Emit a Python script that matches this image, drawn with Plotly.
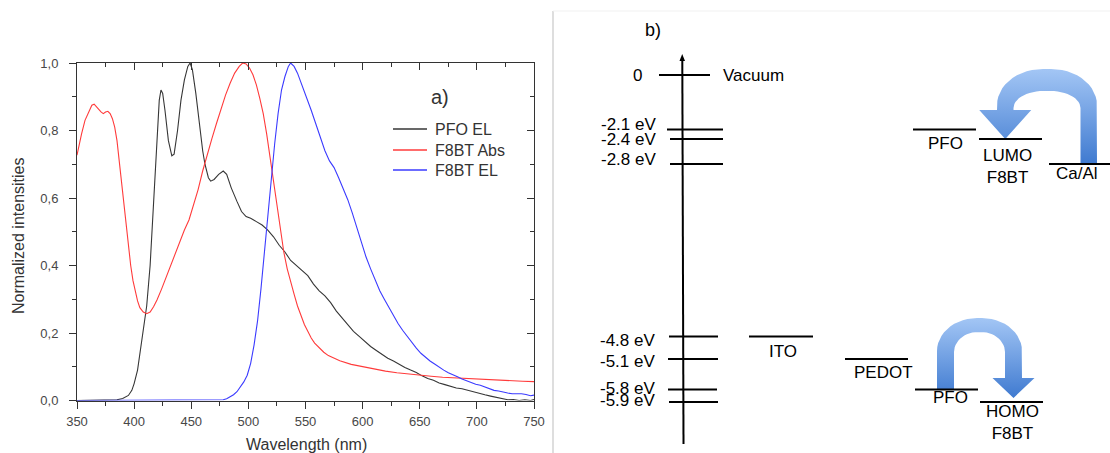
import numpy as np
import plotly.graph_objects as go

W, H = 1110, 453
FONT = "Liberation Sans"

# ---------------- data: spectra (panel a) ----------------
pfo_wl = [350, 360, 370, 380, 385, 390, 395, 398, 400, 403, 405, 408, 411, 414, 417, 420, 422, 423.5, 425,
          427, 430, 433, 435, 438, 441, 444, 447, 449, 451, 454, 457, 460, 462, 465, 467, 470, 474, 478, 481,
          485, 490, 494, 498, 502, 507, 512, 517, 522, 527, 532, 537, 542, 547, 552, 557, 562, 567, 572, 577,
          582, 587, 592, 597, 602, 607, 612, 617, 622, 627, 632, 637, 642, 647, 652, 657, 662, 667, 672, 677,
          682, 687, 692, 697, 702, 707, 712, 717, 722, 727, 732, 737, 742, 747, 750]
pfo_el = [0, 0, 0, 0, 0.002, 0.006, 0.015, 0.03, 0.05, 0.09, 0.14, 0.21, 0.28, 0.40, 0.58, 0.78, 0.89, 0.92, 0.91,
          0.86, 0.77, 0.725, 0.73, 0.80, 0.89, 0.95, 0.99, 1.0, 0.98, 0.91, 0.82, 0.74, 0.70, 0.66, 0.65, 0.655,
          0.67, 0.68, 0.67, 0.63, 0.59, 0.56, 0.545, 0.54, 0.53, 0.52, 0.505, 0.485, 0.46, 0.44, 0.415, 0.40,
          0.385, 0.37, 0.345, 0.325, 0.31, 0.29, 0.265, 0.245, 0.225, 0.205, 0.19, 0.175, 0.16, 0.148, 0.137,
          0.125, 0.117, 0.107, 0.098, 0.09, 0.083, 0.073, 0.065, 0.06, 0.052, 0.047, 0.042, 0.037, 0.035, 0.03,
          0.025, 0.022, 0.017, 0.013, 0.01, 0.005, 0.002, 0.003, 0.0, 0.002, 0.0, 0.003]

abs_wl = [350, 352, 354, 357, 360, 363, 365, 367, 369, 371, 373, 375, 377, 379, 381, 383, 385, 387, 389, 391,
          393, 395, 397, 399, 401, 403, 405, 408, 411, 414, 417, 420, 424, 428, 432, 436, 440, 444, 448, 452,
          456, 460, 464, 468, 472, 476, 480, 484, 488, 492, 495, 498, 501, 504, 507, 510, 513, 516, 519, 522,
          525, 528, 531, 534, 537, 540, 543, 546, 549, 552, 555, 558, 562, 566, 570, 575, 580, 590, 600, 610,
          620, 630, 640, 650, 660, 670, 680, 690, 700, 710, 720, 730, 740, 750]
abs_val = [0.727, 0.76, 0.79, 0.83, 0.855, 0.875, 0.878, 0.87, 0.865, 0.855, 0.85, 0.855, 0.857, 0.85, 0.835,
           0.81, 0.77, 0.71, 0.65, 0.59, 0.52, 0.45, 0.40, 0.355, 0.32, 0.295, 0.275, 0.262, 0.257, 0.262, 0.278,
           0.298, 0.33, 0.365, 0.40, 0.44, 0.475, 0.505, 0.535, 0.58, 0.625, 0.68, 0.73, 0.775, 0.82, 0.865,
           0.905, 0.94, 0.97, 0.99, 1.0, 0.997, 0.985, 0.965, 0.935, 0.895, 0.85, 0.79, 0.72, 0.645, 0.57, 0.50,
           0.44, 0.39, 0.35, 0.315, 0.28, 0.25, 0.225, 0.205, 0.185, 0.17, 0.155, 0.143, 0.133, 0.125, 0.118,
           0.107, 0.1, 0.093, 0.087, 0.082, 0.078, 0.075, 0.072, 0.069, 0.067, 0.065, 0.063, 0.061, 0.059, 0.058,
           0.057, 0.056]

f8_wl = [350, 400, 450, 475, 478, 481, 484, 487, 490, 493, 496, 499, 502, 505, 508, 511, 514, 517, 520, 523,
         526, 529, 532, 535, 537, 540, 543, 547, 551, 555, 559, 563, 567, 571, 575, 579, 583, 587, 591, 595,
         599, 603, 607, 611, 615, 619, 623, 627, 631, 635, 639, 643, 647, 651, 655, 659, 663, 667, 671, 675,
         679, 683, 687, 691, 695, 699, 703, 707, 711, 715, 719, 723, 727, 731, 735, 739, 743, 747, 750]
f8_el = [0, 0, 0, 0, 0.002, 0.005, 0.01, 0.017, 0.026, 0.04, 0.055, 0.075, 0.11, 0.165, 0.235, 0.33, 0.44, 0.56,
         0.66, 0.76, 0.85, 0.92, 0.96, 0.99, 1.0, 0.99, 0.97, 0.935, 0.90, 0.86, 0.82, 0.78, 0.74, 0.71, 0.69,
         0.66, 0.63, 0.595, 0.555, 0.51, 0.465, 0.425, 0.39, 0.355, 0.325, 0.30, 0.275, 0.25, 0.228, 0.208, 0.19,
         0.172, 0.155, 0.14, 0.128, 0.117, 0.108, 0.098, 0.09, 0.082, 0.077, 0.07, 0.064, 0.058, 0.052, 0.048,
         0.045, 0.04, 0.034, 0.03, 0.028, 0.024, 0.022, 0.02, 0.021, 0.02, 0.018, 0.014, 0.016]

series_names = ["PFO EL", "F8BT Abs", "F8BT EL"]
x_tickvals = [350, 400, 450, 500, 550, 600, 650, 700, 750]
y_tickvals = [0.0, 0.2, 0.4, 0.6, 0.8, 1.0]
y_ticktext = ["0,0", "0,2", "0,4", "0,6", "0,8", "1,0"]

# ---------------- data: energy levels (panel b) ----------------
axis_levels = [0, -2.1, -2.4, -2.8, -4.8, -5.1, -5.8, -5.9]
axis_labels = ["0", "-2.1 eV", "-2.4 eV", "-2.8 eV", "-4.8 eV", "-5.1 eV", "-5.8 eV", "-5.9 eV"]
material_levels = [-2.1, -2.4, -2.8, -4.8, -5.1, -5.8, -5.9]
material_labels = ["PFO", "LUMO<br>F8BT", "Ca/Al", "ITO", "PEDOT", "PFO", "HOMO<br>F8BT"]

# ---------------- layout of the schematic (pixel positions) ----------------
ROW = {0: 75, -2.1: 129.5, -2.4: 139, -2.8: 164, -4.8: 336.5, -5.1: 359, -5.8: 389.5, -5.9: 402}
AXIS_TICK_X = {0: (659, 710), -2.1: (667, 723), -2.4: (670, 723), -2.8: (670, 723),
               -4.8: (669, 718), -5.1: (668, 718), -5.8: (668, 717), -5.9: (669, 718)}
AXIS_LABEL_POS = {0: (644, 75), -2.1: (658, 124), -2.4: (658, 139), -2.8: (658, 159),
                  -4.8: (657, 340), -5.1: (657, 361), -5.8: (657, 388), -5.9: (657, 400)}
MAT_X = [(913, 976), (979, 1042), (1049, 1112), (749, 813), (845, 908), (915, 978), (980, 1043)]
MAT_LABEL_POS = [(945, 143), (1007, 166), (1077, 173), (783, 351), (883, 372), (950, 397), (1012, 422)]
LEGEND_X = (393, 427, 433)
LEGEND_Y = [129, 150, 170]

fig = go.Figure()

colors = ["#363636", "#ff3b3b", "#3b3bff"]
for name, xs, ys, c in zip(series_names, [pfo_wl, abs_wl, f8_wl], [pfo_el, abs_val, f8_el], colors):
    fig.add_trace(go.Scatter(x=xs, y=ys, mode="lines", name=name, line=dict(color=c, width=1.1),
                             xaxis="x", yaxis="y", showlegend=False))

# invisible helpers so the mirrored (inside-tick) axes are drawn
fig.add_trace(go.Scatter(x=[350], y=[0], mode="markers", marker=dict(opacity=0), showlegend=False,
                         hoverinfo="skip", xaxis="x3", yaxis="y"))
fig.add_trace(go.Scatter(x=[350], y=[0], mode="markers", marker=dict(opacity=0), showlegend=False,
                         hoverinfo="skip", xaxis="x", yaxis="y3"))


def corner(cx, cy, rx, ry, a0, a1, n=14):
    t = np.radians(np.linspace(a0, a1, n))
    return list(cx + rx * np.cos(t)), list(cy - ry * np.sin(t))


def u_arrow(xl, xr, w, ytop, ttop, rxo, ryo, rxi, ryi, head, ybase, hw, ytip, ytail):
    X, Y = [], []
    X += [xr]; Y += [ybase if head == "right" else ytail]
    cx, cy = corner(xr - rxo, ytop + ryo, rxo, ryo, 0, 90); X += cx; Y += cy
    cx, cy = corner(xl + rxo, ytop + ryo, rxo, ryo, 90, 180); X += cx; Y += cy
    if head == "left":
        m = xl + w / 2
        X += [xl, m - hw, m, m + hw, xl + w]; Y += [ybase, ybase, ytip, ybase, ybase]
    else:
        X += [xl, xl + w]; Y += [ytail, ytail]
    cx, cy = corner(xl + w + rxi, ytop + ttop + ryi, rxi, ryi, 180, 90); X += cx; Y += cy
    cx, cy = corner(xr - w - rxi, ytop + ttop + ryi, rxi, ryi, 90, 0); X += cx; Y += cy
    if head == "right":
        m = xr - w / 2
        X += [xr - w, m - hw, m, m + hw, xr]; Y += [ybase, ybase, ytip, ybase, ybase]
    else:
        X += [xr - w]; Y += [ytail]
    X.append(X[0]); Y.append(Y[0])
    return X, Y


arrows = [
    dict(xl=997, xr=1097, w=16.5, ytop=69, ttop=22, rxo=46, ryo=36, rxi=30, ryi=17,
         head="left", ybase=110, hw=26, ytip=139, ytail=164),
    dict(xl=937, xr=1022, w=17, ytop=318, ttop=14, rxo=40, ryo=33, rxi=24, ryi=20,
         head="right", ybase=378, hw=21, ytip=398, ytail=389),
]
for a in arrows:
    ax, ay = u_arrow(**a)
    fig.add_trace(go.Scatter(
        x=ax, y=ay, mode="lines", fill="toself", line=dict(width=0, color="rgba(0,0,0,0)"),
        fillgradient=dict(type="vertical", colorscale=[[0, "#a3c6f5"], [1, "#3f7ad0"]],
                          start=a["ytop"], stop=max(a["ytip"], a["ytail"])),
        showlegend=False, hoverinfo="skip", xaxis="x2", yaxis="y2"))

shapes = []
annotations = []

# manual legend (panel a)
for name, c, ly in zip(series_names, colors, LEGEND_Y):
    shapes.append(dict(type="line", xref="x2", yref="y2", x0=LEGEND_X[0], x1=LEGEND_X[1], y0=ly, y1=ly,
                       line=dict(color=c, width=1.6)))
    annotations.append(dict(xref="x2", yref="y2", x=LEGEND_X[2], y=ly, text=name, showarrow=False,
                            xanchor="left", yanchor="middle", font=dict(family=FONT, size=16, color="#333333")))

# panel b frame lines
shapes.append(dict(type="line", xref="x2", yref="y2", x0=553, x1=553, y0=11, y1=H,
                   line=dict(color="#dedede", width=2)))
shapes.append(dict(type="line", xref="x2", yref="y2", x0=553, x1=W, y0=11, y1=11,
                   line=dict(color="#f1f1f1", width=1)))

# energy axis with arrow
shapes.append(dict(type="line", xref="x2", yref="y2", x0=683.5, x1=682.3, y0=444, y1=58,
                   line=dict(color="black", width=2)))
shapes.append(dict(type="path", xref="x2", yref="y2", path="M 679.5 61 L 682.2 54 L 685 61 Z",
                   fillcolor="black", line=dict(width=0)))

for e, lab in zip(axis_levels, axis_labels):
    x0, x1 = AXIS_TICK_X[e]
    y = ROW[e]
    shapes.append(dict(type="line", xref="x2", yref="y2", x0=x0, x1=x1, y0=y, y1=y,
                       line=dict(color="black", width=2)))
    lx, ly = AXIS_LABEL_POS[e]
    annotations.append(dict(xref="x2", yref="y2", x=lx, y=ly, text=lab, showarrow=False,
                            xanchor="right", yanchor="middle", font=dict(family=FONT, size=17, color="black")))

annotations.append(dict(xref="x2", yref="y2", x=721, y=75, text="Vacuum", showarrow=False,
                        xanchor="left", yanchor="middle", font=dict(family=FONT, size=17, color="black")))

for e, lab, (x0, x1), (lx, ly) in zip(material_levels, material_labels, MAT_X, MAT_LABEL_POS):
    y = ROW[e]
    shapes.append(dict(type="line", xref="x2", yref="y2", x0=x0, x1=x1, y0=y, y1=y,
                       line=dict(color="black", width=2)))
    annotations.append(dict(xref="x2", yref="y2", x=lx, y=ly, text=lab, showarrow=False,
                            xanchor="center", yanchor="middle", align="center",
                            font=dict(family=FONT, size=17, color="black")))

annotations.append(dict(xref="x2", yref="y2", x=653, y=30, text="b)", showarrow=False,
                        xanchor="center", yanchor="middle", font=dict(family=FONT, size=18, color="black")))

# panel a texts
annotations.append(dict(xref="x2", yref="y2", x=440, y=97, text="a)", showarrow=False,
                        xanchor="center", yanchor="middle", font=dict(family=FONT, size=20, color="#333333")))
annotations.append(dict(xref="x2", yref="y2", x=306, y=444, text="Wavelength (nm)", showarrow=False,
                        xanchor="center", yanchor="middle", font=dict(family=FONT, size=16, color="#333333")))
annotations.append(dict(xref="x2", yref="y2", x=18, y=236, text="Normalized intensities", showarrow=False,
                        textangle=-90, xanchor="center", yanchor="middle",
                        font=dict(family=FONT, size=16, color="#333333")))

xdom = [77 / W, 534 / W]
ydom = [1 - 400.5 / H, 1 - 63 / H]
axcol = "#333333"
tickfont = dict(family=FONT, size=13, color="#474747")

fig.update_layout(
    width=W, height=H, margin=dict(l=0, r=0, t=0, b=0),
    paper_bgcolor="white", plot_bgcolor="rgba(0,0,0,0)",
    showlegend=False,
    xaxis=dict(domain=xdom, range=[350, 750], anchor="y", tickvals=x_tickvals, ticks="outside",
               ticklen=7, tickwidth=1, tickcolor=axcol, showline=True, linecolor=axcol, linewidth=1,
               showgrid=False, zeroline=False, tickfont=tickfont, automargin=False, ticklabelstandoff=2,
               minor=dict(ticks="outside", ticklen=4, tickwidth=1, tickcolor=axcol, dtick=25, tick0=350,
                          showgrid=False)),
    yaxis=dict(domain=ydom, range=[0, 1], anchor="x", tickvals=y_tickvals, ticktext=y_ticktext,
               ticks="outside", ticklen=7, tickwidth=1, tickcolor=axcol, showline=True, linecolor=axcol,
               linewidth=1, showgrid=False, zeroline=False, tickfont=tickfont, automargin=False,
               ticklabelstandoff=8,
               minor=dict(ticks="outside", ticklen=4, tickwidth=1, tickcolor=axcol, dtick=0.1, tick0=0,
                          showgrid=False)),
    xaxis3=dict(overlaying="x", side="top", anchor="y", range=[350, 750], tickvals=x_tickvals,
                ticks="inside", ticklen=7, tickwidth=1, tickcolor=axcol, showline=True, linecolor=axcol,
                linewidth=1, showticklabels=False, showgrid=False, zeroline=False, automargin=False,
                minor=dict(ticks="inside", ticklen=4, tickwidth=1, tickcolor=axcol, dtick=25, tick0=350,
                           showgrid=False)),
    yaxis3=dict(overlaying="y", side="right", anchor="x", range=[0, 1], tickvals=y_tickvals,
                ticks="inside", ticklen=7, tickwidth=1, tickcolor=axcol, showline=True, linecolor=axcol,
                linewidth=1, showticklabels=False, showgrid=False, zeroline=False, automargin=False,
                minor=dict(ticks="inside", ticklen=4, tickwidth=1, tickcolor=axcol, dtick=0.1, tick0=0,
                           showgrid=False)),
    xaxis2=dict(domain=[0, 1], range=[0, W], anchor="y2", visible=False, fixedrange=True),
    yaxis2=dict(domain=[0, 1], range=[H, 0], anchor="x2", visible=False, fixedrange=True),
    shapes=shapes, annotations=annotations,
)

fig.write_html("out.html")
